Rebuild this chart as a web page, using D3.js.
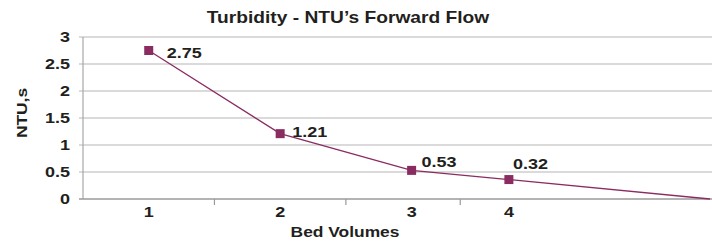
<!DOCTYPE html>
<html><head><meta charset="utf-8">
<script src="https://cdn.jsdelivr.net/npm/d3@7"></script>
<style>body{margin:0;background:#fff}svg{display:block}text{font-family:"Liberation Sans",Arial,sans-serif;font-weight:bold;fill:#231f20}</style>
</head><body>
<script>
const bedVolumes = [1, 2, 3, 3.74, 5.27];
const ntuValues = [2.75, 1.21, 0.53, 0.36, 0];
const pointLabels = ["2.75", "1.21", "0.53", "0.32", ""];
const categoryLabels = ["1", "2", "3", "4"];
const yTicks = [0, 0.5, 1, 1.5, 2, 2.5, 3];
const yTickLabels = ["0", "0.5", "1", "1.5", "2", "2.5", "3"];
const labelOffsets = [[18, 7], [12, 3], [10, -3], [4, -11]];

const W = 712, H = 241, SX = 1.2;
const svg = d3.select("body").append("svg").attr("width", W).attr("height", H);
const x = d3.scaleLinear().domain([0.5, 5.27]).range([83, 710]);
const y = d3.scaleLinear().domain([0, 3]).range([199, 37]);
const color = "#8a2b62";

// place text stretched horizontally (reference glyphs are wider)
function place(sel, fx, fy, rot) {
  sel.attr("transform", (d, i) => `translate(${fx(d, i)},${fy(d, i)})${rot ? " rotate(" + rot + ")" : ""} scale(${SX},1)`);
}

svg.append("g").selectAll("line").data(yTicks.slice(1)).join("line")
  .attr("x1", 79).attr("x2", 712).attr("y1", d => y(d)).attr("y2", d => y(d))
  .attr("stroke", "#b5b5b5").attr("stroke-width", 1.2);
svg.append("line").attr("x1", 83).attr("x2", 83).attr("y1", y(3)).attr("y2", y(0))
  .attr("stroke", "#a8a8a8").attr("stroke-width", 1.2);
svg.append("line").attr("x1", 79).attr("x2", 712).attr("y1", y(0)).attr("y2", y(0))
  .attr("stroke", "#9a9a9a").attr("stroke-width", 1.4);
const mids = d3.range(categoryLabels.length - 1).map(i => (bedVolumes[i] + bedVolumes[i + 1]) / 2);
svg.append("g").selectAll("line").data(mids).join("line")
  .attr("x1", d => x(d)).attr("x2", d => x(d)).attr("y1", y(0)).attr("y2", y(0) + 6)
  .attr("stroke", "#9a9a9a").attr("stroke-width", 1.2);

svg.append("g").selectAll("text").data(yTicks).join("text")
  .attr("dy", "0.36em").attr("text-anchor", "end").attr("font-size", 15)
  .text((d, i) => yTickLabels[i])
  .call(place, () => 70, d => y(d));
svg.append("g").selectAll("text").data(categoryLabels).join("text")
  .attr("text-anchor", "middle").attr("font-size", 15).text(d => d)
  .call(place, (d, i) => x(bedVolumes[i]), () => 217);

svg.append("path").datum(bedVolumes.map((v, i) => [v, ntuValues[i]]))
  .attr("d", d3.line().x(d => x(d[0])).y(d => y(d[1])))
  .attr("fill", "none").attr("stroke", color).attr("stroke-width", 1.3);
svg.append("g").selectAll("rect").data(categoryLabels.map((c, i) => i)).join("rect")
  .attr("x", i => x(bedVolumes[i]) - 4.5).attr("y", i => y(ntuValues[i]) - 4.5)
  .attr("width", 9).attr("height", 9).attr("fill", color);
svg.append("g").selectAll("text").data(categoryLabels.map((c, i) => i)).join("text")
  .attr("font-size", 15).text(i => pointLabels[i])
  .call(place, i => x(bedVolumes[i]) + labelOffsets[i][0], i => y(ntuValues[i]) + labelOffsets[i][1]);

svg.append("text").attr("text-anchor", "middle").attr("font-size", 16)
  .text("Turbidity - NTU\u2019s Forward Flow").call(place, () => 348, () => 23);
svg.append("text").attr("text-anchor", "middle").attr("font-size", 14.5)
  .text("Bed Volumes").call(place, () => 345, () => 237);
svg.append("text").attr("text-anchor", "middle").attr("font-size", 14.5)
  .text("NTU,s").call(place, () => 27, () => 113, -90);
</script>
</body></html>
